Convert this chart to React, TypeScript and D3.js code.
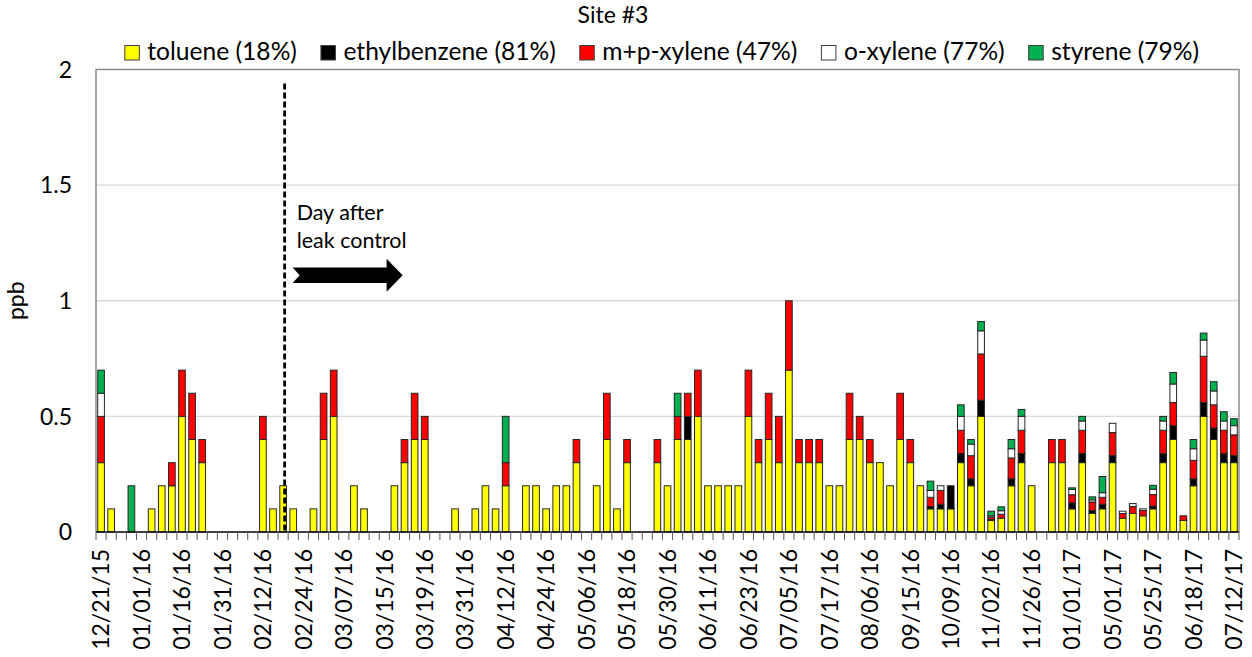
import { useEffect, useRef } from 'react';
import * as d3 from 'd3';

const W = 1252;
const H = 657;

const TITLE = 'Site #3';
const SERIES = ['toluene', 'ethylbenzene', 'mpXylene', 'oXylene', 'styrene'];
const LEGEND_LABELS = ['toluene (18%)', 'ethylbenzene (81%)', 'm+p-xylene (47%)', 'o-xylene (77%)', 'styrene (79%)'];
const COLORS = ['#ffff00', '#000000', '#ff0000', '#ffffff', '#00b050'];

// one label shown for every 4th sample
const TICK_LABELS = [
  '12/21/15', '01/01/16', '01/16/16', '01/31/16', '02/12/16', '02/24/16', '03/07/16', '03/15/16',
  '03/19/16', '03/31/16', '04/12/16', '04/24/16', '05/06/16', '05/18/16', '05/30/16', '06/11/16',
  '06/23/16', '07/05/16', '07/17/16', '08/06/16', '09/15/16', '10/09/16', '11/02/16', '11/26/16',
  '01/01/17', '05/01/17', '05/25/17', '06/18/17', '07/12/17',
];
const TICK_EVERY = 4;
const Y_TICKS = [0, 0.5, 1, 1.5, 2];

const TOLUENE = [
  0.3, 0.1, 0, 0, 0, 0.1, 0.2, 0.2, 0.5, 0.4,
  0.3, 0, 0, 0, 0, 0, 0.4, 0.1, 0.2, 0.1,
  0, 0.1, 0.4, 0.5, 0, 0.2, 0.1, 0, 0, 0.2,
  0.3, 0.4, 0.4, 0, 0, 0.1, 0, 0.1, 0.2, 0.1,
  0.2, 0, 0.2, 0.2, 0.1, 0.2, 0.2, 0.3, 0, 0.2,
  0.4, 0.1, 0.3, 0, 0, 0.3, 0.2, 0.4, 0.4, 0.5,
  0.2, 0.2, 0.2, 0.2, 0.5, 0.3, 0.4, 0.3, 0.7, 0.3,
  0.3, 0.3, 0.2, 0.2, 0.4, 0.4, 0.3, 0.3, 0.2, 0.4,
  0.3, 0.2, 0.1, 0.1, 0.1, 0.3, 0.2, 0.5, 0.05, 0.06,
  0.2, 0.3, 0.2, 0, 0.3, 0.3, 0.1, 0.3, 0.08, 0.1,
  0.3, 0.06, 0.08, 0.07, 0.1, 0.3, 0.4, 0.05, 0.2, 0.5,
  0.4, 0.3, 0.3,
];
const ETHYLBENZENE = [
  0, 0, 0, 0, 0, 0, 0, 0, 0, 0,
  0, 0, 0, 0, 0, 0, 0, 0, 0, 0,
  0, 0, 0, 0, 0, 0, 0, 0, 0, 0,
  0, 0, 0, 0, 0, 0, 0, 0, 0, 0,
  0, 0, 0, 0, 0, 0, 0, 0, 0, 0,
  0, 0, 0, 0, 0, 0, 0, 0, 0.1, 0,
  0, 0, 0, 0, 0, 0, 0, 0, 0, 0,
  0, 0, 0, 0, 0, 0, 0, 0, 0, 0,
  0, 0, 0.01, 0.02, 0.1, 0.04, 0.03, 0.07, 0.004, 0,
  0.03, 0.04, 0, 0, 0, 0, 0.026, 0.04, 0.013, 0.02,
  0.03, 0, 0, 0, 0.012, 0.04, 0.06, 0, 0.03, 0.06,
  0.05, 0.04, 0.03,
];
const MP_XYLENE = [
  0.2, 0, 0, 0, 0, 0, 0, 0.1, 0.2, 0.2,
  0.1, 0, 0, 0, 0, 0, 0.1, 0, 0, 0,
  0, 0, 0.2, 0.2, 0, 0, 0, 0, 0, 0,
  0.1, 0.2, 0.1, 0, 0, 0, 0, 0, 0, 0,
  0.1, 0, 0, 0, 0, 0, 0, 0.1, 0, 0,
  0.2, 0, 0.1, 0, 0, 0.1, 0, 0.1, 0.1, 0.2,
  0, 0, 0, 0, 0.2, 0.1, 0.2, 0.2, 0.3, 0.1,
  0.1, 0.1, 0, 0, 0.2, 0.1, 0.1, 0, 0, 0.2,
  0.1, 0, 0.04, 0.06, 0, 0.1, 0.1, 0.2, 0.01, 0.017,
  0.09, 0.1, 0, 0, 0.1, 0.1, 0.035, 0.1, 0.037, 0.03,
  0.1, 0.02, 0.03, 0.023, 0.05, 0.1, 0.1, 0.02, 0.08, 0.2,
  0.1, 0.1, 0.09,
];
const O_XYLENE = [
  0.1, 0, 0, 0, 0, 0, 0, 0, 0, 0,
  0, 0, 0, 0, 0, 0, 0, 0, 0, 0,
  0, 0, 0, 0, 0, 0, 0, 0, 0, 0,
  0, 0, 0, 0, 0, 0, 0, 0, 0, 0,
  0, 0, 0, 0, 0, 0, 0, 0, 0, 0,
  0, 0, 0, 0, 0, 0, 0, 0, 0, 0,
  0, 0, 0, 0, 0, 0, 0, 0, 0, 0,
  0, 0, 0, 0, 0, 0, 0, 0, 0, 0,
  0, 0, 0.03, 0.02, 0, 0.06, 0.05, 0.1, 0.006, 0.015,
  0.04, 0.06, 0, 0, 0, 0, 0.023, 0.04, 0.009, 0.02,
  0.04, 0.01, 0.013, 0.007, 0.023, 0.04, 0.08, 0, 0.05, 0.07,
  0.06, 0.04, 0.04,
];
const STYRENE = [
  0.1, 0, 0, 0.2, 0, 0, 0, 0, 0, 0,
  0, 0, 0, 0, 0, 0, 0, 0, 0, 0,
  0, 0, 0, 0, 0, 0, 0, 0, 0, 0,
  0, 0, 0, 0, 0, 0, 0, 0, 0, 0,
  0.2, 0, 0, 0, 0, 0, 0, 0, 0, 0,
  0, 0, 0, 0, 0, 0, 0, 0.1, 0, 0,
  0, 0, 0, 0, 0, 0, 0, 0, 0, 0,
  0, 0, 0, 0, 0, 0, 0, 0, 0, 0,
  0, 0, 0.04, 0, 0, 0.05, 0.02, 0.04, 0.02, 0.017,
  0.04, 0.03, 0, 0, 0, 0, 0.007, 0.02, 0.013, 0.07,
  0, 0, 0, 0, 0.017, 0.02, 0.05, 0, 0.04, 0.03,
  0.04, 0.04, 0.03,
];

// sample index of the day after leak control
const LEAK_INDEX = 18;

const FONT = "Lato, 'Liberation Sans', sans-serif";

export default function App() {
  const svgRef = useRef<SVGSVGElement>(null);

  useEffect(() => {
    if (!svgRef.current) return;
    const margin = { top: 69.5, right: 13, bottom: 125, left: 96 };
    const innerW = W - margin.left - margin.right;
    const innerH = H - margin.top - margin.bottom;

    const svg = d3.select(svgRef.current);
    svg.selectAll('*').remove();

    const rows = TOLUENE.map((t, i) => ({
      idx: i,
      toluene: t,
      ethylbenzene: ETHYLBENZENE[i],
      mpXylene: MP_XYLENE[i],
      oXylene: O_XYLENE[i],
      styrene: STYRENE[i],
    }));

    const x = d3.scaleBand<number>()
      .domain(rows.map(d => d.idx))
      .range([0, innerW])
      .paddingInner(0.34)
      .paddingOuter(0.17);
    const y = d3.scaleLinear().domain([0, 2]).range([innerH, 0]);
    const step = x.step();

    const g = svg.append('g').attr('transform', `translate(${margin.left},${margin.top})`);

    // gridlines
    g.selectAll('.grid')
      .data(Y_TICKS.filter(v => v > 0 && v < 2))
      .enter()
      .append('line')
      .attr('x1', 0).attr('x2', innerW)
      .attr('y1', d => y(d)).attr('y2', d => y(d))
      .attr('stroke', '#d9d9d9').attr('stroke-width', 1.3);

    // plot frame (top, left, right)
    g.append('path')
      .attr('d', `M0,${innerH}V0H${innerW}V${innerH}`)
      .attr('fill', 'none')
      .attr('stroke', '#8c8c8c')
      .attr('stroke-width', 1.5);

    // stacked bars
    const stack = d3.stack<any>().keys(SERIES);
    const layers = stack(rows);
    layers.forEach((layer, k) => {
      g.append('g')
        .selectAll('rect')
        .data(layer.filter(s => s[1] - s[0] > 0))
        .enter()
        .append('rect')
        .attr('x', s => x(s.data.idx) as number)
        .attr('width', x.bandwidth())
        .attr('y', s => y(s[1]))
        .attr('height', s => y(s[0]) - y(s[1]))
        .attr('fill', COLORS[k])
        .attr('stroke', '#262626')
        .attr('stroke-width', 1);
    });

    // bottom axis with ticks at every slot boundary
    g.append('line')
      .attr('x1', 0).attr('x2', innerW)
      .attr('y1', innerH).attr('y2', innerH)
      .attr('stroke', '#000').attr('stroke-width', 1.5);
    g.selectAll('.xtick')
      .data(d3.range(rows.length + 1))
      .enter()
      .append('line')
      .attr('x1', i => i * step).attr('x2', i => i * step)
      .attr('y1', innerH).attr('y2', innerH + 8)
      .attr('stroke', '#595959').attr('stroke-width', 1);

    // x labels
    g.selectAll('.xlab')
      .data(TICK_LABELS)
      .enter()
      .append('text')
      .attr('transform', (_, k) => {
        const cx = (x(k * TICK_EVERY) as number) + x.bandwidth() / 2;
        return `translate(${cx},${innerH + 17}) rotate(-90)`;
      })
      .attr('text-anchor', 'end')
      .attr('dy', '0.36em')
      .attr('font-family', FONT)
      .attr('font-size', 23)
      .attr('fill', '#000')
      .text(d => d);

    // y labels
    g.selectAll('.ylab')
      .data(Y_TICKS)
      .enter()
      .append('text')
      .attr('x', -24)
      .attr('y', d => y(d))
      .attr('dy', '0.36em')
      .attr('text-anchor', 'end')
      .attr('font-family', FONT)
      .attr('font-size', 23)
      .attr('fill', '#000')
      .text(d => String(d));

    svg.append('text')
      .attr('transform', `translate(16,${margin.top + innerH / 2}) rotate(-90)`)
      .attr('text-anchor', 'middle')
      .attr('dy', '0.36em')
      .attr('font-family', FONT)
      .attr('font-size', 23)
      .text('ppb');

    // leak control annotation
    const lx = (x(LEAK_INDEX) as number) + x.bandwidth() / 2 + 1.5;
    g.append('line')
      .attr('x1', lx).attr('x2', lx)
      .attr('y1', y(1.94)).attr('y2', innerH)
      .attr('stroke', '#000')
      .attr('stroke-width', 2.8)
      .attr('stroke-dasharray', '6,3');
    const ann = g.append('text')
      .attr('font-family', FONT)
      .attr('font-size', 21.5)
      .attr('fill', '#000');
    ann.append('tspan').attr('x', lx + 12).attr('y', y(1.35)).text('Day after');
    ann.append('tspan').attr('x', lx + 12).attr('y', y(1.23)).text('leak control');

    const ay = y(1.11);
    const ax0 = lx + 8;
    const ax1 = lx + 118;
    const head = 16;
    const shaft = 7.7;
    const headH = 16.5;
    g.append('path')
      .attr('d', [
        `M${ax0},${ay - shaft}`,
        `H${ax1 - head}`,
        `V${ay - headH}`,
        `L${ax1},${ay}`,
        `L${ax1 - head},${ay + headH}`,
        `V${ay + shaft}`,
        `H${ax0}`,
        `L${ax0 + 7},${ay}`,
        'Z',
      ].join(''))
      .attr('fill', '#000');

    // title
    svg.append('text')
      .attr('x', 613)
      .attr('y', 23)
      .attr('text-anchor', 'middle')
      .attr('font-family', FONT)
      .attr('font-size', 23)
      .text(TITLE);

    // legend, laid out from measured text widths and centred
    const lg = svg.append('g');
    const sq = 14.5;
    const gapText = 8;
    const gapItem = 24;
    let cursor = 0;
    LEGEND_LABELS.forEach((lab, k) => {
      const item = lg.append('g').attr('transform', `translate(${cursor},0)`);
      item.append('rect')
        .attr('x', 0).attr('y', 45.5)
        .attr('width', sq).attr('height', sq)
        .attr('fill', COLORS[k])
        .attr('stroke', '#404040')
        .attr('stroke-width', 1);
      const t = item.append('text')
        .attr('x', sq + gapText)
        .attr('y', 60)
        .attr('font-family', FONT)
        .attr('font-size', 24.6)
        .text(lab);
      const tw = (t.node() as SVGTextElement).getComputedTextLength();
      cursor += sq + gapText + tw + gapItem;
    });
    const total = cursor - gapItem;
    lg.attr('transform', `translate(${662 - total / 2},0)`);
  }, []);

  return (
    <svg
      ref={svgRef}
      width={W}
      height={H}
      style={{ position: 'absolute', left: 0, top: 0, background: '#fff' }}
    />
  );
}
